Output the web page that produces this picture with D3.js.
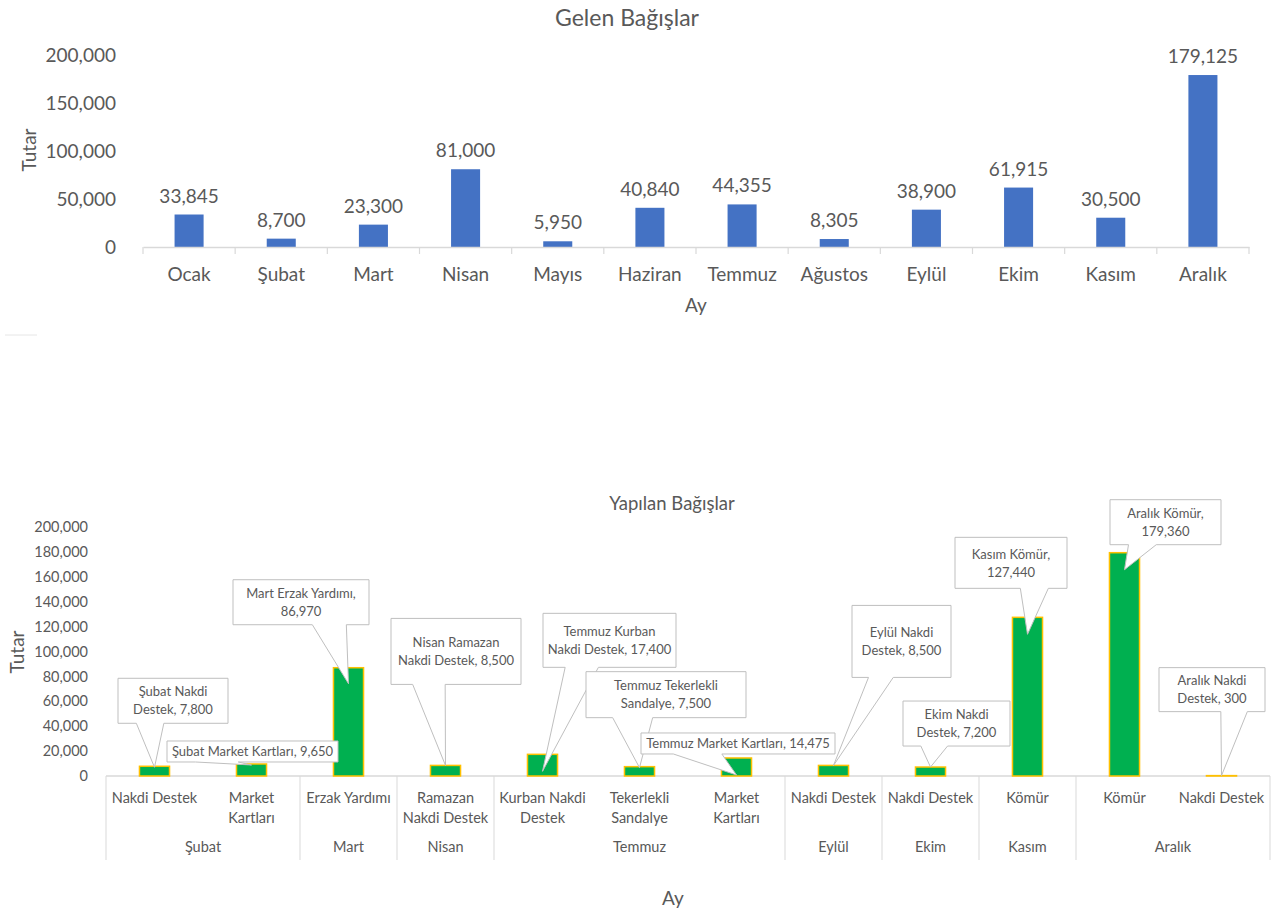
<!DOCTYPE html>
<html><head><meta charset="utf-8">
<script src="https://cdn.jsdelivr.net/npm/d3@7"></script>
<style>
body{margin:0;background:#fff}
svg{display:block}
text{font-family:Lato,"Liberation Sans",sans-serif;fill:#595959}
</style>
</head><body>
<svg id="chart" width="1280" height="912"></svg>
<script>
// ---------- DATA ----------
const gelenMonths = ["Ocak","Şubat","Mart","Nisan","Mayıs","Haziran","Temmuz","Ağustos","Eylül","Ekim","Kasım","Aralık"];
const gelenValues = [33845,8700,23300,81000,5950,40840,44355,8305,38900,61915,30500,179125];
const gelenTicks = [0,50000,100000,150000,200000];

const yapilanMonths = ["Şubat","Şubat","Mart","Nisan","Temmuz","Temmuz","Temmuz","Eylül","Ekim","Kasım","Aralık","Aralık"];
const yapilanCategories = ["Nakdi Destek","Market Kartları","Erzak Yardımı","Ramazan Nakdi Destek","Kurban Nakdi Destek","Tekerlekli Sandalye","Market Kartları","Nakdi Destek","Nakdi Destek","Kömür","Kömür","Nakdi Destek"];
const yapilanValues = [7800,9650,86970,8500,17400,7500,14475,8500,7200,127440,179360,300];
const yapilanTicks = [0,20000,40000,60000,80000,100000,120000,140000,160000,180000,200000];

// ---------- LAYOUT (not data) ----------
// words on first line of the leaf axis label (0 = single line)
const leafBreak = [0,1,0,1,2,1,1,0,0,0,0,0];
// callout boxes relative to bar anchor (bar centre, bar top)
const calloutLayout = [
  {dx:-36.5, dy:-88,  w:110, h:45, tip:1,  brk:2},
  {dx:-84.5, dy:-23,  w:171, h:21, tip:1,  brk:0},
  {dx:-115.5,dy:-88,  w:136, h:45, tip:16, brk:3},
  {dx:-54.5, dy:-147, w:130, h:66, tip:0,  brk:2},
  {dx:0.5,   dy:-141, w:133, h:54, tip:17, brk:2},
  {dx:-53.5, dy:-95,  w:160, h:46, tip:1,  brk:2},
  {dx:-95.5, dy:-25,  w:194, h:21, tip:17, brk:0},
  {dx:18.5,  dy:-160, w:99,  h:72, tip:0,  brk:2},
  {dx:-27.5, dy:-66,  w:107, h:45, tip:0,  brk:2},
  {dx:-72.5, dy:-80,  w:112, h:51, tip:17, brk:2},
  {dx:-14.5, dy:-53,  w:111, h:45, tip:17, brk:2},
  {dx:-62.5, dy:-108, w:106, h:44, tip:0,  brk:2}
];

const fmt = d3.format(",");
const svg = d3.select("#chart");
const gridCol = "#d9d9d9";

// ================= TOP CHART =================
{
  const x = d3.scaleBand().domain(gelenMonths).range([143,1249]).padding(0);
  const y = d3.scaleLinear().domain([0,200000]).range([247,55]);
  const bw = x.step()*0.315;
  const g = svg.append("g");

  g.append("text").attr("x",627).attr("y",26).attr("text-anchor","middle")
    .attr("font-size",23).text("Gelen Bağışlar");

  const ya = g.append("g").attr("transform","translate(143,0)")
    .call(d3.axisLeft(y).tickValues(gelenTicks).tickFormat(fmt).tickSize(0).tickPadding(27));
  ya.select(".domain").remove();
  ya.selectAll("text").attr("font-size",19).attr("fill","#595959").attr("font-family",null);

  g.append("text").attr("transform","translate(36,150) rotate(-90)")
    .attr("text-anchor","middle").attr("font-size",19).text("Tutar");

  g.selectAll("rect.bar").data(gelenValues).join("rect").attr("class","bar")
    .attr("x",(d,i)=>x(gelenMonths[i])+(x.step()-bw)/2)
    .attr("width",bw)
    .attr("y",d=>y(d)).attr("height",d=>y(0)-y(d))
    .attr("fill","#4472C4");

  g.selectAll("text.lab").data(gelenValues).join("text").attr("class","lab")
    .attr("x",(d,i)=>x(gelenMonths[i])+x.step()/2)
    .attr("y",d=>y(d)-12).attr("text-anchor","middle")
    .attr("font-size",19).attr("fill","#404040").text(d=>fmt(d));

  const xa = g.append("g").attr("transform","translate(0,247)")
    .call(d3.axisBottom(x).tickSize(0).tickPadding(21));
  xa.select(".domain").attr("stroke",gridCol).attr("stroke-width",1.5);
  xa.selectAll("text").attr("font-size",19).attr("fill","#595959").attr("font-family",null);
  const bounds = d3.range(gelenMonths.length+1).map(i=>x.range()[0]+i*x.step());
  g.selectAll("line.tk").data(bounds).join("line").attr("class","tk")
    .attr("x1",d=>d).attr("x2",d=>d).attr("y1",247).attr("y2",254)
    .attr("stroke",gridCol).attr("stroke-width",1.2);

  g.append("text").attr("x",696).attr("y",312).attr("text-anchor","middle")
    .attr("font-size",19).text("Ay");

  g.append("line").attr("x1",5).attr("x2",37).attr("y1",335).attr("y2",335)
    .attr("stroke","#e6e6e6").attr("stroke-width",1);
}

// ================= BOTTOM CHART =================
function calloutPath(l,t,w,h,tx,ty){
  const r=l+w,b=t+h,cx=l+w/2,cy=t+h/2;
  const dx=tx-cx, dy=ty-cy;
  if (Math.abs(dy) > Math.abs(dx*h/w)){
    const x1=l+w*(dx>0?7:2)/12, x2=l+w*(dx>0?10:5)/12;
    if (dy>0) return `M${l},${t}H${r}V${b}H${x2}L${tx},${ty}L${x1},${b}H${l}Z`;
    return `M${l},${t}H${x1}L${tx},${ty}L${x2},${t}H${r}V${b}H${l}Z`;
  } else {
    const y1=t+h*(dy>0?7:2)/12, y2=t+h*(dy>0?10:5)/12;
    if (dx>0) return `M${l},${t}H${r}V${y1}L${tx},${ty}L${r},${y2}V${b}H${l}Z`;
    return `M${l},${t}H${r}V${b}H${l}V${y2}L${tx},${ty}L${l},${y1}Z`;
  }
}

{
  const idx = d3.range(yapilanValues.length);
  const x = d3.scaleBand().domain(idx).range([106,1270]).padding(0);
  const y = d3.scaleLinear().domain([0,200000]).range([776,527]);
  const bw = x.step()*0.31;
  const g = svg.append("g");

  g.append("text").attr("x",672).attr("y",510).attr("text-anchor","middle")
    .attr("font-size",18.5).text("Yapılan Bağışlar");

  const ya = g.append("g").attr("transform","translate(106,0)")
    .call(d3.axisLeft(y).tickValues(yapilanTicks).tickFormat(fmt).tickSize(0).tickPadding(18));
  ya.select(".domain").remove();
  ya.selectAll("text").attr("font-size",14.5).attr("fill","#595959").attr("font-family",null);

  g.append("text").attr("transform","translate(24,652) rotate(-90)")
    .attr("text-anchor","middle").attr("font-size",19).text("Tutar");

  // axis line + group separators
  g.append("line").attr("x1",106).attr("x2",1270).attr("y1",776).attr("y2",776)
    .attr("stroke",gridCol).attr("stroke-width",1.5);
  const groups = [];
  yapilanMonths.forEach((m,i)=>{
    const last = groups[groups.length-1];
    if (last && last.month===m) last.end=i; else groups.push({month:m,start:i,end:i});
  });
  const sepX = [x(groups[0].start)].concat(groups.map(gr=>x(gr.end)+x.step()));
  g.selectAll("line.sep").data(sepX).join("line").attr("class","sep")
    .attr("x1",d=>d).attr("x2",d=>d).attr("y1",776).attr("y2",860)
    .attr("stroke",gridCol).attr("stroke-width",1);

  // leaf labels
  idx.forEach(i=>{
    const words = yapilanCategories[i].split(" ");
    const lines = leafBreak[i] ? [words.slice(0,leafBreak[i]).join(" "), words.slice(leafBreak[i]).join(" ")] : [yapilanCategories[i]];
    const t = g.append("text").attr("text-anchor","middle").attr("font-size",14.5);
    lines.forEach((ln,k)=>t.append("tspan").attr("x",x(i)+x.step()/2).attr("y",803+k*19.5).text(ln));
  });
  // group labels
  g.selectAll("text.grp").data(groups).join("text").attr("class","grp")
    .attr("x",d=>(x(d.start)+x(d.end)+x.step())/2).attr("y",852)
    .attr("text-anchor","middle").attr("font-size",14.5).text(d=>d.month);

  g.append("text").attr("x",673).attr("y",905).attr("text-anchor","middle")
    .attr("font-size",19).text("Ay");

  // bars
  g.selectAll("rect.bar").data(yapilanValues).join("rect").attr("class","bar")
    .attr("x",(d,i)=>x(i)+(x.step()-bw)/2).attr("width",bw)
    .attr("y",d=>y(d)).attr("height",d=>y(0)-y(d))
    .attr("fill","#00B050").attr("stroke","#FFC000").attr("stroke-width",1.5);

  // callouts
  idx.forEach(i=>{
    const L = calloutLayout[i];
    const ax = x(i)+x.step()/2, ay = y(yapilanValues[i]);
    const l = ax+L.dx, t = ay+L.dy;
    const tx = ax, ty = ay+L.tip;
    const cg = g.append("g");
    cg.append("path").attr("d",calloutPath(l,t,L.w,L.h,tx,ty))
      .attr("fill","#fff").attr("stroke","#bfbfbf").attr("stroke-width",1);
    const full = `${yapilanMonths[i]} ${yapilanCategories[i]}, ${fmt(yapilanValues[i])}`;
    const words = full.split(" ");
    const lines = L.brk ? [words.slice(0,L.brk).join(" "), words.slice(L.brk).join(" ")] : [full];
    const lh = 18, fs = 13;
    const y0 = t + L.h/2 - (lines.length-1)*lh/2 + fs*0.36;
    const tt = cg.append("text").attr("text-anchor","middle").attr("font-size",fs);
    lines.forEach((ln,k)=>tt.append("tspan").attr("x",l+L.w/2).attr("y",y0+k*lh).text(ln));
  });
}
</script>
</body></html>
